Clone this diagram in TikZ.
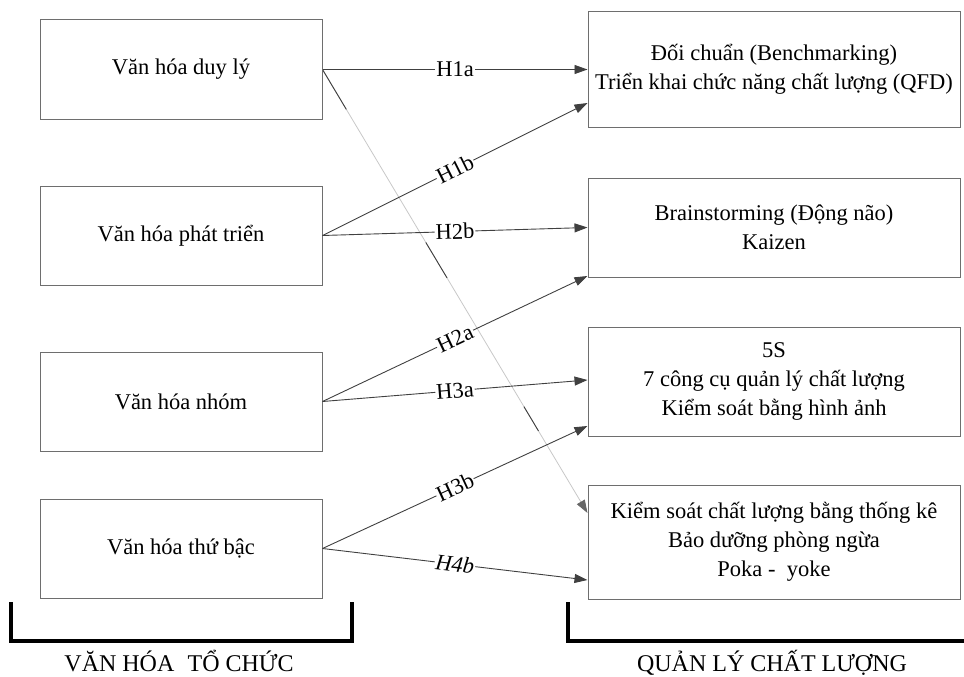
\documentclass[tikz,border=0pt]{standalone}
\usepackage{fontspec}
\setmainfont{Liberation Serif}
\usetikzlibrary{arrows.meta,calc}
\definecolor{boxgray}{RGB}{110,110,110}
\definecolor{linegray}{RGB}{64,64,64}
\definecolor{faintgray}{RGB}{200,200,200}
\begin{document}
\begin{tikzpicture}[x=1pt,y=-1pt,
  every node/.style={font=\fontsize{22.5}{29}\selectfont},
  lbox/.style={draw=boxgray, line width=1pt, minimum width=282pt, minimum height=99pt, inner sep=0pt, align=center},
  rbox/.style={draw=boxgray, line width=1pt, minimum width=372pt, inner sep=0pt, align=center},
  conn/.style={draw=linegray, line width=0.9pt, -{Triangle[length=13pt,width=9pt]}},
  hlab/.style={pos=0.5, sloped, fill=white, inner sep=1pt},
  bracket/.style={line width=4pt},
  biglab/.style={font=\fontsize{24}{29}\selectfont, anchor=base}
]
\useasboundingbox (0,0) rectangle (964,677);

% left boxes
\node[lbox] (l1) at (181,69.5) {Văn hóa duy lý};
\node[lbox] (l2) at (181,235.5) {Văn hóa phát triển};
\node[lbox] (l3) at (181,401.5) {Văn hóa nhóm};
\node[lbox] (l4) at (181,548.5) {Văn hóa thứ bậc};

% right boxes
\node[rbox, minimum height=115pt] (r1) at (774,69.5) {Đối chuẩn (Benchmarking)\\Triển khai chức năng chất lượng (QFD)};
\node[rbox, minimum height=99pt] (r2) at (774,227.5) {Brainstorming (Động não)\\Kaizen};
\node[rbox, minimum height=109pt] (r3) at (774,381.5) {5S\\7 công cụ quản lý chất lượng\\Kiểm soát bằng hình ảnh};
\node[rbox, minimum height=114pt] (r4) at (774,542) {Kiểm soát chất lượng bằng thống kê\\Bảo dưỡng phòng ngừa\\Poka -\ \ yoke};

% target points
\coordinate (t1b) at ($(r1.west)+(0,33.5)$);
\coordinate (t2a) at ($(r2.west)+(0,48.5)$);
\coordinate (t3a) at ($(r3.west)+(0,-1.5)$);
\coordinate (t3b) at ($(r3.west)+(0,44.5)$);
\coordinate (t4b) at ($(r4.west)+(0,38)$);
\coordinate (tdg) at ($(r4.west)+(0,-29)$);

% faint diagonal connector
\draw[draw=faintgray, line width=0.8pt, -{Triangle[length=13pt,width=9pt,color=linegray!80]}] (l1.east) -- (tdg);
\draw[draw=linegray, line width=0.9pt] ($(l1.east)!0!(tdg)$) -- ($(l1.east)!0.09!(tdg)$);
\draw[draw=linegray, line width=0.9pt] ($(l1.east)!0.39!(tdg)$) -- ($(l1.east)!0.47!(tdg)$);
\draw[draw=linegray, line width=0.9pt] ($(l1.east)!0.76!(tdg)$) -- ($(l1.east)!0.815!(tdg)$);

% connectors
\draw[conn] (l1.east) -- node[hlab] {H1a} (r1.west);
\draw[conn] (l2.east) -- node[hlab] {H1b} (t1b);
\draw[conn] (l2.east) -- node[hlab] {H2b} (r2.west);
\draw[conn] (l3.east) -- node[hlab] {H2a} (t2a);
\draw[conn] (l3.east) -- node[hlab] {H3a} (t3a);
\draw[conn] (l4.east) -- node[hlab] {H3b} (t3b);
\draw[conn] (l4.east) -- node[hlab] {\textit{H4b}} (t4b);

% brackets
\draw[bracket] (10.5,602) -- (10.5,641) -- (352,641) -- (352,602);
\draw[bracket] (567.5,602) -- (567.5,641) -- (966,641);

% group labels
\node[biglab] (gl) at (179,671) {VĂN HÓA\hspace{0.3em} TỔ CHỨC};
\node[biglab] (gr) at (772,671) {QUẢN LÝ CHẤT LƯỢNG};
\end{tikzpicture}
\end{document}
